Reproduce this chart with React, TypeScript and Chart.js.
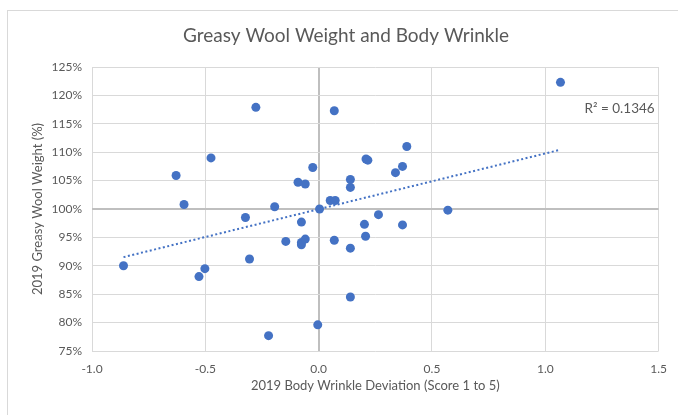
import React, { useEffect, useRef } from "react";
import { Chart, registerables } from "chart.js";

Chart.register(...registerables);

const TITLE = "Greasy Wool Weight and Body Wrinkle";
const X_TITLE = "2019 Body Wrinkle Deviation (Score 1 to 5)";
const Y_TITLE = "2019 Greasy Wool Weight (%)";
const R2_LABEL = "R² = 0.1346";

// Body wrinkle deviation (x)
const wrinkle = [
  -0.861, -0.629, -0.594, -0.528, -0.502, -0.475, -0.323, -0.305, -0.277, -0.221,
  -0.194, -0.145, -0.091, -0.076, -0.076, -0.076, -0.059, -0.059, -0.026, -0.004,
  0.004, 0.051, 0.069, 0.069, 0.073, 0.14, 0.14, 0.14, 0.14, 0.202,
  0.207, 0.209, 0.217, 0.264, 0.339, 0.37, 0.37, 0.389, 0.57, 1.067,
];
// Greasy wool weight (%) (y)
const woolWeight = [
  90.0, 105.9, 100.8, 88.1, 89.5, 109.0, 98.5, 91.2, 117.9, 77.7,
  100.4, 94.3, 104.7, 97.7, 94.1, 93.7, 94.7, 104.4, 107.3, 79.6,
  100.0, 101.5, 117.3, 94.5, 101.5, 105.2, 103.8, 93.1, 84.5, 97.3,
  95.2, 108.8, 108.6, 99.0, 106.4, 107.5, 97.2, 111.0, 99.8, 122.3,
];

const X_MIN = -1.0, X_MAX = 1.5, X_STEP = 0.5;
const Y_MIN = 75, Y_MAX = 125, Y_STEP = 5;

const BLUE = "#4472C4";
const TEXT = "#595959";
const GRID = "#D9D9D9";
const ZERO = "#BFBFBF";
const FONT = "Lato, 'Open Sans', sans-serif";

function regression(xs: number[], ys: number[]) {
  const n = xs.length;
  const mx = xs.reduce((a, b) => a + b, 0) / n;
  const my = ys.reduce((a, b) => a + b, 0) / n;
  let sxy = 0, sxx = 0;
  for (let i = 0; i < n; i++) {
    sxy += (xs[i] - mx) * (ys[i] - my);
    sxx += (xs[i] - mx) ** 2;
  }
  const slope = sxy / sxx;
  return { slope, intercept: my - slope * mx };
}

export default function App() {
  const ref = useRef<HTMLCanvasElement>(null);

  useEffect(() => {
    document.body.style.margin = "0";
    const points = wrinkle.map((x, i) => ({ x, y: woolWeight[i] }));
    const { slope, intercept } = regression(wrinkle, woolWeight);
    const xLo = Math.min(...wrinkle);
    const xHi = Math.max(...wrinkle);
    const trend = [
      { x: xLo, y: intercept + slope * xLo },
      { x: xHi, y: intercept + slope * xHi },
    ];

    const textPlugin = {
      id: "texts",
      afterDatasetsDraw(chart: any) {
        const { ctx, chartArea, scales } = chart;
        ctx.save();
        // R² label
        ctx.font = `13.5px ${FONT}`;
        ctx.fillStyle = TEXT;
        ctx.textAlign = "right";
        ctx.textBaseline = "middle";
        ctx.fillText(R2_LABEL, chartArea.right - 4, scales.y.getPixelForValue(117.6));
        // Chart title (centred on the chart frame)
        ctx.font = `19px ${FONT}`;
        ctx.textAlign = "center";
        ctx.fillText(TITLE, 346, 36);
        ctx.restore();
      },
    };

    const chart = new Chart(ref.current!, {
      type: "scatter",
      data: {
        datasets: [
          {
            type: "line",
            label: "Trend",
            data: trend,
            borderColor: BLUE,
            borderWidth: 2,
            borderDash: [2, 2.5],
            pointRadius: 0,
            fill: false,
            order: 0,
          } as any,
          {
            label: "Wool",
            data: points,
            backgroundColor: BLUE,
            borderColor: BLUE,
            pointRadius: 4.5,
            borderWidth: 0,
            order: 1,
          },
        ],
      },
      options: {
        responsive: false,
        animation: false,
        layout: { padding: { left: 0, right: 18, top: 67, bottom: 0 } },
        plugins: {
          legend: { display: false },
          tooltip: { enabled: false },
          title: { display: false },
        },
        scales: {
          x: {
            type: "linear",
            min: X_MIN,
            max: X_MAX,
            afterFit: (s: any) => { s.height = 64; },
            ticks: {
              stepSize: X_STEP,
              color: TEXT,
              font: { family: FONT, size: 12 },
              padding: 11,
              callback: (v: any) => Number(v).toFixed(1),
            },
            grid: {
              drawTicks: false,
              color: (c: any) => (c.tick && Math.abs(c.tick.value) < 1e-9 ? ZERO : GRID),
              lineWidth: (c: any) => (c.tick && Math.abs(c.tick.value) < 1e-9 ? 2 : 1),
            },
            border: { display: false },
            title: {
              display: true,
              text: X_TITLE,
              color: TEXT,
              font: { family: FONT, size: 13 },
              padding: { top: 0, bottom: 21 },
            },
          },
          y: {
            type: "linear",
            min: Y_MIN,
            max: Y_MAX,
            afterFit: (s: any) => { s.width = 92; },
            ticks: {
              stepSize: Y_STEP,
              color: TEXT,
              font: { family: FONT, size: 12 },
              padding: 10,
              callback: (v: any) => `${v}%`,
            },
            grid: {
              drawTicks: false,
              color: (c: any) => (c.tick && c.tick.value === 100 ? ZERO : GRID),
              lineWidth: (c: any) => (c.tick && c.tick.value === 100 ? 2 : 1),
            },
            border: { display: false },
            title: {
              display: true,
              text: Y_TITLE,
              color: TEXT,
              font: { family: FONT, size: 13 },
              padding: { top: 29.7, bottom: 0 },
            },
          },
        },
      },
      plugins: [textPlugin],
    });
    return () => chart.destroy();
  }, []);

  return (
    <div style={{ position: "fixed", inset: 0, overflow: "hidden", background: "#fff" }}>
      <div
        style={{
          position: "absolute",
          left: 7,
          top: 10,
          width: 720,
          height: 440,
          border: `1px solid ${GRID}`,
        }}
      />
      <canvas
        ref={ref}
        width={678}
        height={415}
        style={{ position: "absolute", left: 0, top: 0, width: 678, height: 415 }}
      />
    </div>
  );
}
